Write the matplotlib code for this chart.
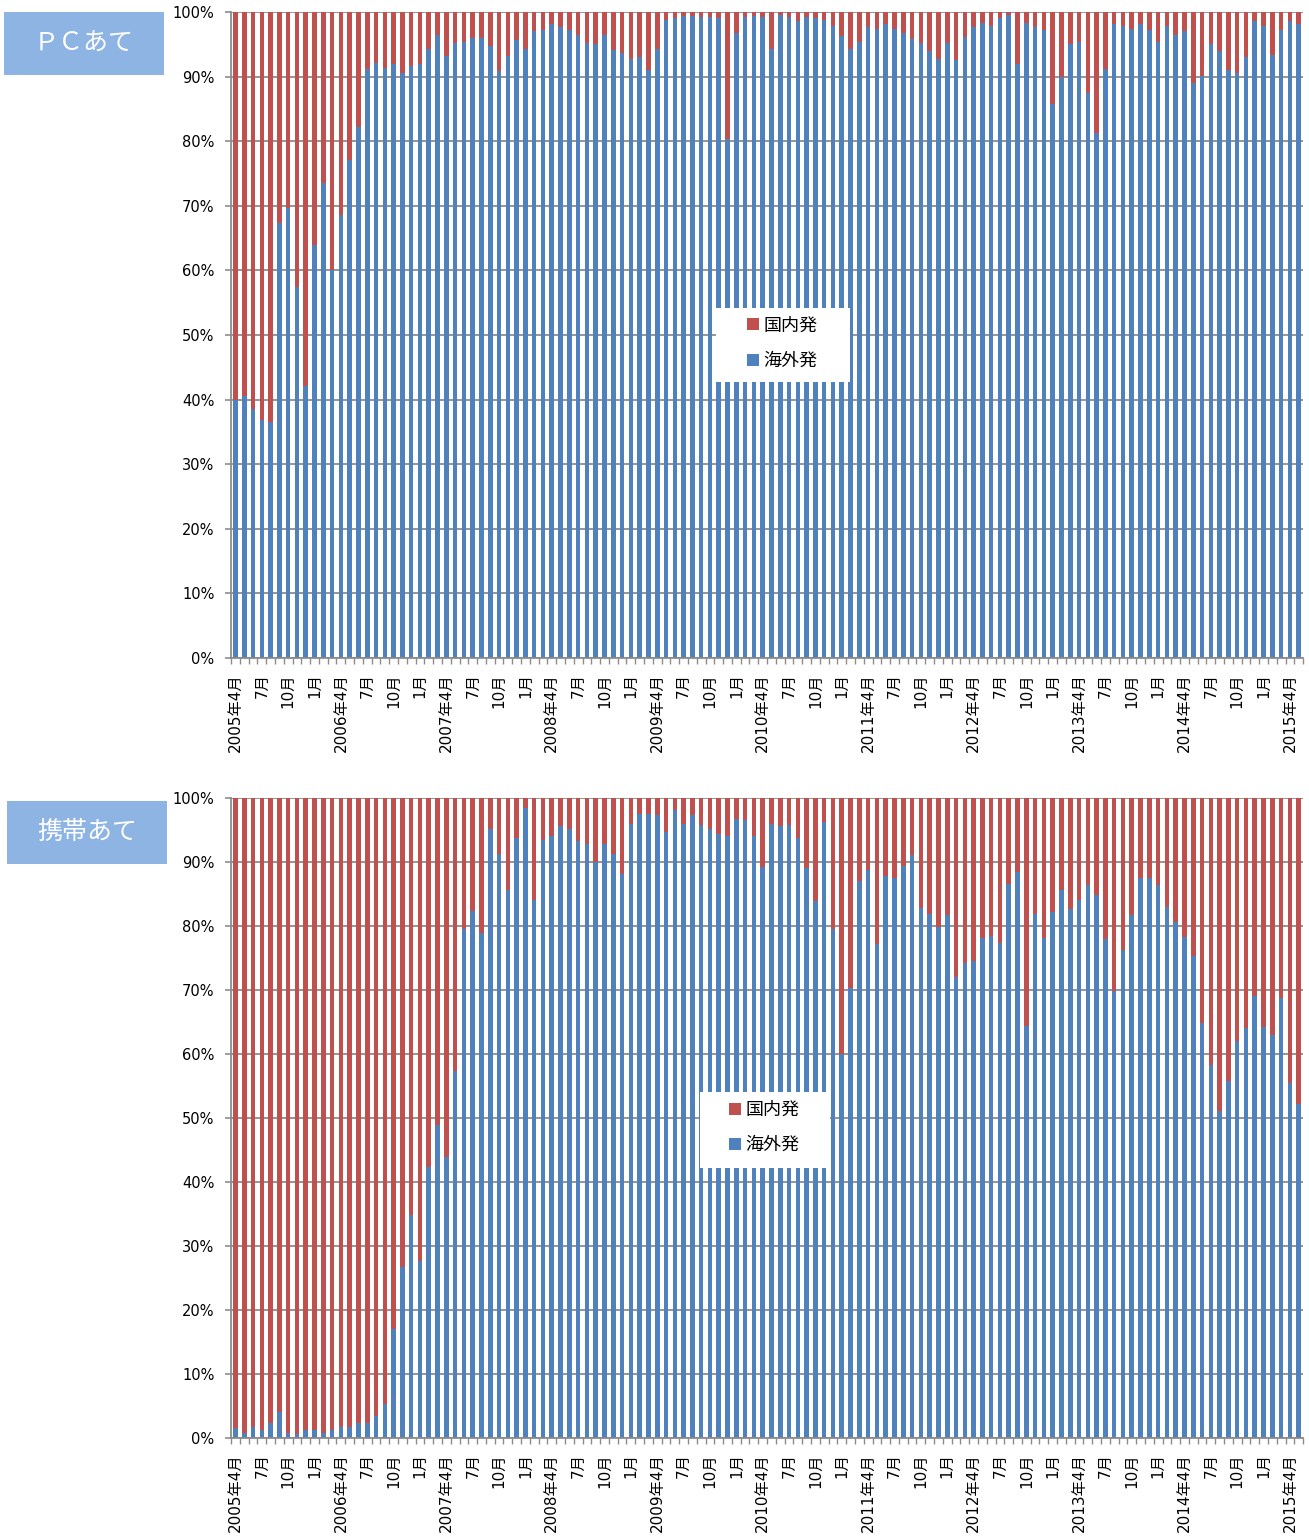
import numpy as np
import matplotlib
matplotlib.use('Agg')
import matplotlib.pyplot as plt
from matplotlib.patches import Rectangle

plt.rcParams['font.family'] = ['DejaVu Sans', 'Noto Sans CJK JP']

# 海外発 share (%) per month, 2005/04 .. 2015/05 ; 国内発 is the rest up to 100
pc_overseas = np.array([
    40.0, 40.5, 38.6, 36.8, 36.5, 67.4, 69.6, 57.4, 42.1, 64.0,
    73.6, 60.0, 68.6, 77.1, 82.2, 91.2, 92.1, 91.4, 91.9, 90.6,
    91.6, 91.9, 94.3, 96.5, 93.2, 95.2, 95.4, 95.9, 95.9, 94.8,
    90.8, 93.2, 95.6, 94.3, 97.0, 97.2, 98.1, 97.6, 97.2, 96.5,
    95.2, 95.0, 96.4, 94.1, 93.7, 92.8, 93.0, 91.0, 94.3, 98.8,
    99.0, 99.4, 99.4, 99.2, 99.2, 99.0, 80.4, 96.8, 99.2, 99.4,
    99.2, 94.3, 99.6, 99.2, 98.6, 99.2, 99.0, 98.8, 97.9, 96.3,
    94.3, 95.4, 97.6, 97.4, 98.1, 97.4, 96.8, 95.8, 95.2, 93.9,
    92.7, 95.2, 92.5, 96.1, 97.6, 98.3, 97.9, 99.0, 99.6, 91.9,
    98.3, 97.6, 97.2, 85.7, 89.9, 95.0, 95.4, 87.5, 81.3, 91.2,
    98.1, 97.9, 97.4, 98.1, 97.2, 95.4, 97.9, 96.5, 97.0, 89.0,
    90.1, 95.0, 93.9, 91.0, 90.5, 93.1, 98.6, 97.9, 93.4, 97.2,
    98.6, 98.1,
])

mobile_overseas = np.array([
    1.5, 0.8, 1.7, 1.3, 2.3, 4.1, 0.8, 0.6, 1.2, 1.3,
    0.8, 1.3, 1.7, 1.7, 2.3, 2.3, 3.5, 5.3, 17.0, 26.7,
    34.8, 27.6, 42.4, 48.9, 43.9, 57.3, 79.5, 82.4, 78.9, 95.1,
    91.3, 85.7, 93.7, 98.4, 84.1, 93.5, 94.1, 95.6, 95.2, 93.3,
    92.8, 90.0, 92.8, 91.3, 88.1, 96.0, 97.5, 97.5, 97.3, 94.7,
    98.2, 96.0, 97.3, 95.8, 95.2, 94.4, 94.1, 96.8, 96.6, 94.1,
    89.3, 96.0, 95.6, 95.8, 93.7, 89.1, 83.9, 96.3, 79.5, 60.0,
    70.3, 87.1, 88.8, 77.2, 87.9, 87.5, 89.4, 91.1, 82.8, 81.9,
    79.8, 81.7, 72.1, 74.2, 74.5, 78.1, 78.5, 77.4, 86.5, 88.4,
    64.4, 81.9, 78.1, 82.2, 85.7, 82.6, 84.0, 86.4, 84.8, 78.0,
    69.8, 76.3, 81.7, 87.5, 87.5, 86.4, 83.0, 80.6, 78.3, 75.3,
    64.8, 58.3, 51.1, 55.8, 62.0, 64.1, 69.0, 64.3, 62.9, 68.8,
    55.4, 52.2,
])

# one label every third month, starting at the first bar
tick_labels = [
    '2005年4月', '7月', '10月', '1月',
    '2006年4月', '7月', '10月', '1月',
    '2007年4月', '7月', '10月', '1月',
    '2008年4月', '7月', '10月', '1月',
    '2009年4月', '7月', '10月', '1月',
    '2010年4月', '7月', '10月', '1月',
    '2011年4月', '7月', '10月', '1月',
    '2012年4月', '7月', '10月', '1月',
    '2013年4月', '7月', '10月', '1月',
    '2014年4月', '7月', '10月', '1月',
    '2015年4月',
]

series_names = ['国内発', '海外発']
panel_titles = ['ＰＣあて', '携帯あて']

BLUE = '#4F81BD'
RED = '#C0504D'
GRID = '#8C8C8C'
TAG = '#8EB4E3'


def draw_panel(ax, overseas, box, legend_xy):
    n = len(overseas)
    x = np.arange(n)
    domestic = 100 - overseas
    b_over = ax.bar(x, overseas, width=0.52, color=BLUE, zorder=2, linewidth=0)
    b_dom = ax.bar(x, domestic, bottom=overseas, width=0.52, color=RED,
                   zorder=2, linewidth=0)

    ax.set_xlim(-0.5, n - 0.5)
    ax.set_ylim(0, 100)
    ax.set_yticks(np.arange(0, 101, 10))
    ax.set_yticklabels(['%d%%' % v for v in range(0, 101, 10)], fontsize=10.5)
    ax.yaxis.grid(True, color=GRID, linewidth=1.3)
    ax.set_axisbelow(True)

    ax.set_xticks(np.arange(0, n, 3)[:len(tick_labels)])
    ax.set_xticklabels(tick_labels, rotation=90, fontsize=11)
    ax.set_xticks(np.arange(-0.5, n, 1), minor=True)
    ax.tick_params(axis='x', which='major', length=0, pad=11)
    ax.tick_params(axis='x', which='minor', length=4, color=GRID, width=1)
    ax.tick_params(axis='y', length=4, color=GRID, width=1.2, pad=8)

    for side in ['top', 'right']:
        ax.spines[side].set_visible(False)
    for side in ['left', 'bottom']:
        ax.spines[side].set_color(GRID)
        ax.spines[side].set_linewidth(1.3)

    # white backing for the legend
    ax.add_patch(Rectangle((box[0], box[1]), box[2], box[3], transform=ax.transAxes,
                           facecolor='white', edgecolor='none', zorder=4))
    leg = ax.legend([b_dom, b_over], series_names, loc='center',
                    bbox_to_anchor=legend_xy, frameon=False, fontsize=13,
                    handlelength=0.65, handleheight=0.65, handletextpad=0.25,
                    labelspacing=0.95)
    leg.set_zorder(5)


fig = plt.figure(figsize=(13.09, 15.38), dpi=100)

ax1 = fig.add_axes([0.1765, 0.5722, 0.819, 0.42])
draw_panel(ax1, pc_overseas, (0.452, 0.427, 0.125, 0.115), (0.5145, 0.487))

ax2 = fig.add_axes([0.1765, 0.0650, 0.819, 0.4161])
draw_panel(ax2, mobile_overseas, (0.4375, 0.422, 0.1215, 0.119), (0.4977, 0.485))

# panel tags on the left
for (x0, y0), title in zip([(0.0031, 0.9512), (0.0053, 0.4382)], panel_titles):
    fig.patches.append(Rectangle((x0, y0), 0.1222, 0.0412, transform=fig.transFigure,
                                 facecolor=TAG, edgecolor='none'))
    fig.text(x0 + 0.0611, y0 + 0.0206, title, color='white', fontsize=18,
             ha='center', va='center', family=['Noto Sans CJK JP'])

fig.savefig('out.png', dpi=100)
